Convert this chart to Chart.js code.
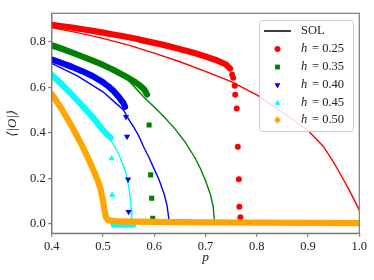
<!DOCTYPE html>
<html>
<head>
<meta charset="utf-8">
<script src="https://cdn.jsdelivr.net/npm/chart.js@4.4.0/dist/chart.umd.min.js"></script>
<style>
  html, body { margin: 0; padding: 0; background: #fff; }
  #wrap { width: 374px; height: 280px; }
</style>
</head>
<body>
<div id="wrap"><canvas id="grafico" width="374" height="280"></canvas></div>
<script>
// Valores
const etiquetas = ['0.25', '0.35', '0.40', '0.45', '0.50'];
const colores = ['#ff0000', '#008000', '#0000ff', '#00ffff', '#ffa500'];
const marcadores = ['circle', 'rect', 'triangle', 'triangle', 'rectRot'];
const rotaciones = [0, 0, 180, 0, 0];

const xTicks = [0.4, 0.5, 0.6, 0.7, 0.8, 0.9, 1.0];
const yTicks = [0.0, 0.2, 0.4, 0.6, 0.8];

// bandas densas (simulacion)
const bandaP25 = [0.40, 0.42, 0.44, 0.46, 0.48, 0.50, 0.52, 0.54, 0.56, 0.58, 0.60, 0.62, 0.64, 0.66, 0.68, 0.70, 0.72, 0.74, 0.748];
const bandaV25 = [0.874, 0.868, 0.862, 0.855, 0.848, 0.840, 0.832, 0.824, 0.815, 0.805, 0.795, 0.785, 0.774, 0.762, 0.749, 0.735, 0.720, 0.700, 0.682];
const bandaP35 = [0.40, 0.42, 0.44, 0.46, 0.48, 0.50, 0.52, 0.54, 0.56, 0.57, 0.58, 0.586];
const bandaV35 = [0.785, 0.769, 0.752, 0.735, 0.717, 0.698, 0.677, 0.653, 0.627, 0.611, 0.592, 0.568];
const bandaP40 = [0.40, 0.42, 0.44, 0.46, 0.48, 0.50, 0.51, 0.52, 0.53, 0.54, 0.543];
const bandaV40 = [0.722, 0.706, 0.689, 0.670, 0.649, 0.622, 0.605, 0.585, 0.560, 0.530, 0.514];
const bandaP45 = [0.40, 0.42, 0.44, 0.46, 0.48, 0.50, 0.51, 0.515];
const bandaV45 = [0.655, 0.613, 0.566, 0.518, 0.468, 0.412, 0.388, 0.378];
const bandaP50 = [0.40, 0.42, 0.44, 0.46, 0.47, 0.48, 0.49, 0.495, 0.50, 0.503, 0.506, 0.51, 0.53, 0.60, 0.70, 0.80, 0.90, 1.00];
const bandaV50 = [0.570, 0.502, 0.425, 0.340, 0.293, 0.243, 0.190, 0.155, 0.100, 0.058, 0.028, 0.015, 0.010, 0.008, 0.006, 0.005, 0.004, 0.003];
const colaP45 = [0.52, 0.53, 0.54, 0.55, 0.56];
const colaV45 = [-0.007, -0.007, -0.007, -0.007, -0.007];

// puntos sueltos en la transicion
const sueltosP25 = [0.752, 0.754, 0.757, 0.758, 0.761, 0.763, 0.765, 0.766, 0.768];
const sueltosV25 = [0.655, 0.642, 0.606, 0.567, 0.507, 0.338, 0.196, 0.075, 0.028];
const sueltosP35 = [0.590, 0.593, 0.595, 0.597];
const sueltosV35 = [0.434, 0.215, 0.112, 0.024];
const sueltosP40 = [0.545, 0.547, 0.549, 0.550];
const sueltosV40 = [0.470, 0.383, 0.195, 0.053];
const sueltosP45 = [0.517, 0.518];
const sueltosV45 = [0.287, 0.126];

// curvas SOL
const solP25 = [0.40, 0.45, 0.50, 0.55, 0.60, 0.65, 0.70, 0.75, 0.80, 0.85, 0.90, 0.93, 0.95, 0.97, 0.98, 0.99, 1.00];
const solV25 = [0.862, 0.840, 0.815, 0.785, 0.750, 0.712, 0.670, 0.625, 0.566, 0.490, 0.410, 0.340, 0.270, 0.190, 0.150, 0.105, 0.060];
const solP35 = [0.40, 0.45, 0.50, 0.55, 0.58, 0.60, 0.62, 0.64, 0.66, 0.68, 0.69, 0.70, 0.71, 0.715, 0.718];
const solV35 = [0.772, 0.740, 0.695, 0.630, 0.556, 0.513, 0.468, 0.418, 0.360, 0.288, 0.243, 0.190, 0.125, 0.075, 0.0];
const solP40 = [0.40, 0.45, 0.50, 0.52, 0.54, 0.55, 0.56, 0.57, 0.58, 0.59, 0.60, 0.61, 0.62, 0.625, 0.628, 0.629];
const solV40 = [0.705, 0.650, 0.580, 0.540, 0.500, 0.460, 0.425, 0.385, 0.335, 0.290, 0.240, 0.190, 0.125, 0.080, 0.030, 0.0];
const solP45 = [0.40, 0.44, 0.48, 0.50, 0.52, 0.53, 0.54, 0.545, 0.55, 0.553, 0.555, 0.556, 0.5565];
const solV45 = [0.640, 0.555, 0.460, 0.410, 0.350, 0.310, 0.255, 0.220, 0.165, 0.120, 0.070, 0.020, 0.0];

const fuente = "'Liberation Serif', 'DejaVu Serif', serif";
const gris = '#7a7a7a';
const texto = '#222222';

function puntos(ps, vs) {
    return ps.map((p, i) => ({ x: p, y: vs[i] }));
}

const bandas = [[bandaP25, bandaV25], [bandaP35, bandaV35], [bandaP40, bandaV40], [bandaP45, bandaV45], [bandaP50, bandaV50]];
const sueltos = [[sueltosP25, sueltosV25], [sueltosP35, sueltosV35], [sueltosP40, sueltosV40], [sueltosP45, sueltosV45]];
const soles = [[solP25, solV25], [solP35, solV35], [solP40, solV40], [solP45, solV45]];

const datasets = [];

// SOL debajo de todo
soles.forEach((s, i) => {
    datasets.push({
        label: 'SOL ' + etiquetas[i],
        data: puntos(s[0], s[1]),
        showLine: true,
        borderColor: colores[i],
        borderWidth: 1.4,
        pointRadius: 0,
        fill: false,
        clip: 0,
        order: 20
    });
});

datasets.push({
    label: 'cola 0.45',
    data: puntos(colaP45, colaV45),
    showLine: true,
    borderColor: colores[3],
    borderWidth: 5,
    borderCapStyle: 'round',
    pointRadius: 0,
    clip: 0,
    order: 12
});

bandas.forEach((b, i) => {
    datasets.push({
        label: 'h = ' + etiquetas[i],
        data: puntos(b[0], b[1]),
        showLine: true,
        borderColor: colores[i],
        borderWidth: 6.2,
        borderCapStyle: 'round',
        borderJoinStyle: 'round',
        pointRadius: 0,
        clip: 0,
        order: 10 - i
    });
});

sueltos.forEach((s, i) => {
    datasets.push({
        label: 'sueltos ' + etiquetas[i],
        data: puntos(s[0], s[1]),
        showLine: false,
        pointStyle: marcadores[i],
        rotation: rotaciones[i],
        pointRadius: i === 0 ? 3 : 3.6,
        pointBackgroundColor: colores[i],
        pointBorderColor: colores[i],
        pointBorderWidth: 0,
        order: 10 - i
    });
});

// marco completo del area
const marcoPlugin = {
    id: 'marco',
    afterDraw(chart) {
        const a = chart.chartArea;
        const c = chart.ctx;
        c.save();
        c.strokeStyle = gris;
        c.lineWidth = 1.2;
        c.strokeRect(a.left, a.top, a.right - a.left, a.bottom - a.top);
        c.restore();
    }
};

// leyenda estilo matplotlib
const leyendaPlugin = {
    id: 'leyenda',
    afterDraw(chart) {
        const c = chart.ctx;
        const x0 = 259.5, y0 = 20.5, w = 94, h = 111;
        c.save();
        c.beginPath();
        c.roundRect(x0, y0, w, h, 3);
        c.fillStyle = 'rgba(255,255,255,0.85)';
        c.fill();
        c.strokeStyle = '#cccccc';
        c.lineWidth = 1;
        c.stroke();

        const filas = [31, 49, 67, 85, 103, 120];
        c.textBaseline = 'middle';
        c.fillStyle = texto;

        // SOL
        c.beginPath();
        c.moveTo(264, filas[0]);
        c.lineTo(291, filas[0]);
        c.strokeStyle = '#000';
        c.lineWidth = 1.5;
        c.stroke();
        c.font = '12.5px ' + fuente;
        c.fillText('SOL', 301, filas[0]);

        etiquetas.forEach((et, i) => {
            const y = filas[i + 1];
            c.fillStyle = colores[i];
            c.strokeStyle = colores[i];
            Chart.helpers.drawPoint(c, {
                pointStyle: marcadores[i],
                radius: i === 0 ? 3 : 3.4,
                rotation: rotaciones[i],
                borderWidth: 0
            }, 277.5, y);
            c.fillStyle = texto;
            c.font = 'italic 12.5px ' + fuente;
            c.fillText('h', 301, y);
            c.font = '12.5px ' + fuente;
            c.fillText('= ' + et, 312, y);
        });
        c.restore();
    }
};

const ctx = document.getElementById('grafico').getContext('2d');
new Chart(ctx, {
    type: 'scatter',
    data: { datasets: datasets },
    options: {
        responsive: false,
        animation: false,
        devicePixelRatio: 1,
        layout: { padding: { left: 0, right: 14.7, top: 13.3, bottom: 0 } },
        plugins: { legend: { display: false }, tooltip: { enabled: false } },
        scales: {
            x: {
                type: 'linear',
                min: 0.4,
                max: 1.0,
                afterFit: s => { s.height = 46.7; },
                afterBuildTicks: s => { s.ticks = xTicks.map(v => ({ value: v })); },
                ticks: {
                    callback: v => v.toFixed(1),
                    font: { family: fuente, size: 12.5 },
                    color: texto,
                    padding: 2,
                    maxRotation: 0
                },
                grid: { display: true, drawOnChartArea: false, tickLength: 3.5, color: gris, lineWidth: 1.2 },
                border: { display: true, color: gris, width: 1.2 },
                title: {
                    display: true,
                    text: 'p',
                    font: { family: fuente, size: 13.5, style: 'italic' },
                    color: texto,
                    padding: { top: 0, bottom: 14 }
                }
            },
            y: {
                type: 'linear',
                min: -0.042,
                max: 0.925,
                afterFit: s => { s.width = 51.7; },
                afterBuildTicks: s => { s.ticks = yTicks.map(v => ({ value: v })); },
                ticks: {
                    callback: v => v.toFixed(1),
                    font: { family: fuente, size: 12.5 },
                    color: texto,
                    padding: 2.5
                },
                grid: { display: true, drawOnChartArea: false, tickLength: 3.5, color: gris, lineWidth: 1.2 },
                border: { display: true, color: gris, width: 1.2 },
                title: {
                    display: true,
                    text: '⟨|O|⟩',
                    font: { family: fuente, size: 13, style: 'italic' },
                    color: texto,
                    padding: { top: 5, bottom: 0 }
                }
            }
        }
    },
    plugins: [marcoPlugin, leyendaPlugin]
});
</script>
</body>
</html>
